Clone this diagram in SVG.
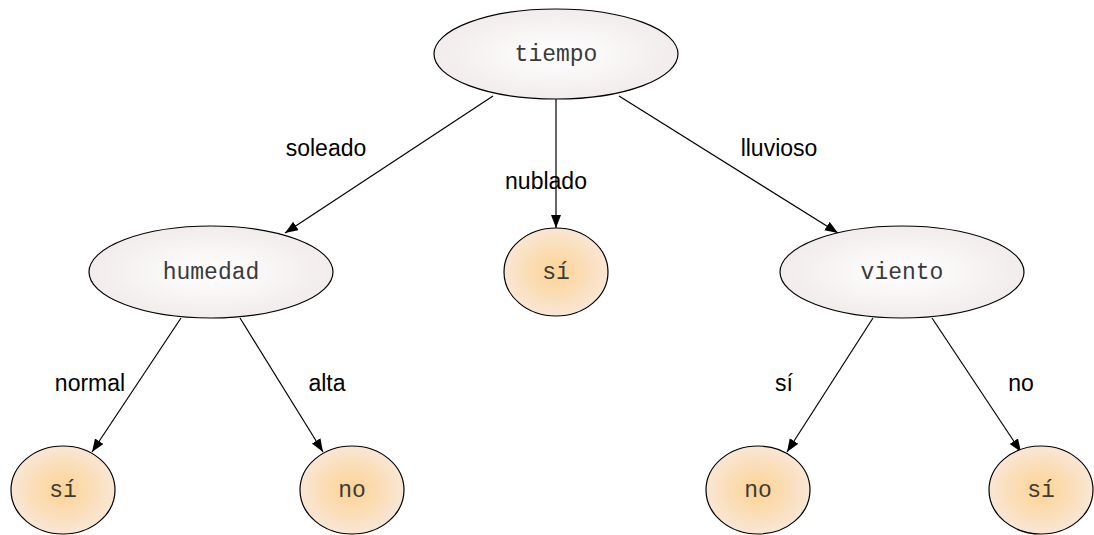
<svg xmlns="http://www.w3.org/2000/svg" width="1094" height="535" viewBox="0 0 1094 535">
  <defs>
    <radialGradient id="gDecision" cx="50%" cy="50%" r="50%">
      <stop offset="0" stop-color="#ffffff"/>
      <stop offset="1" stop-color="#f2ecec"/>
    </radialGradient>
    <radialGradient id="gLeaf" cx="50%" cy="50%" r="50%">
      <stop offset="0" stop-color="#fdd393"/>
      <stop offset="1" stop-color="#f9e6d4"/>
    </radialGradient>
    <marker id="arrow" markerUnits="userSpaceOnUse" markerWidth="14" markerHeight="12" refX="13" refY="5" orient="auto">
      <path d="M0,0 L13,5 L0,10 Z" fill="#000"/>
    </marker>
  </defs>
  <style>
    .decision { fill: url(#gDecision); stroke: #000; stroke-width: 1.2; }
    .leaf { fill: url(#gLeaf); stroke: #000; stroke-width: 1.2; }
    .ntext { font-family: "Liberation Mono", "Courier New", monospace; font-size: 23px; fill: #3a3a3a; text-anchor: middle; }
    .edge { stroke: #000; stroke-width: 1.2; fill: none; marker-end: url(#arrow); }
    .elabel { font-family: "Liberation Sans", Arial, Helvetica, sans-serif; font-size: 23px; fill: #000; text-anchor: middle; }
  </style>
  <rect width="1094" height="535" fill="#fff"/>

  <g id="connectors">
    <line class="edge" x1="493" y1="96" x2="285" y2="233"/>
    <line class="edge" x1="556" y1="99" x2="556" y2="228"/>
    <line class="edge" x1="619" y1="96" x2="838" y2="233"/>
    <line class="edge" x1="181" y1="318" x2="92" y2="452"/>
    <line class="edge" x1="240" y1="318" x2="323" y2="452"/>
    <line class="edge" x1="873" y1="318" x2="787" y2="452"/>
    <line class="edge" x1="932" y1="318" x2="1021" y2="452"/>
    <text class="elabel" x="326" y="156">soleado</text>
    <text class="elabel" x="546" y="189">nublado</text>
    <text class="elabel" x="779" y="156">lluvioso</text>
    <text class="elabel" x="90" y="391">normal</text>
    <text class="elabel" x="327" y="391">alta</text>
    <text class="elabel" x="784" y="391">sí</text>
    <text class="elabel" x="1021" y="391">no</text>
  </g>

  <g id="node-tiempo">
    <ellipse class="decision" cx="556" cy="54" rx="122" ry="45"/>
    <text class="ntext" x="556" y="61">tiempo</text>
  </g>
  <g id="node-humedad">
    <ellipse class="decision" cx="211" cy="272" rx="122" ry="46"/>
    <text class="ntext" x="211" y="279">humedad</text>
  </g>
  <g id="node-nublado-si">
    <ellipse class="leaf" cx="556" cy="272" rx="52" ry="44"/>
    <text class="ntext" x="556" y="279">sí</text>
  </g>
  <g id="node-viento">
    <ellipse class="decision" cx="902" cy="272" rx="122" ry="46"/>
    <text class="ntext" x="902" y="279">viento</text>
  </g>
  <g id="node-normal-si">
    <ellipse class="leaf" cx="63" cy="490" rx="52" ry="44"/>
    <text class="ntext" x="63" y="497">sí</text>
  </g>
  <g id="node-alta-no">
    <ellipse class="leaf" cx="352" cy="490" rx="52" ry="44"/>
    <text class="ntext" x="352" y="497">no</text>
  </g>
  <g id="node-viento-si-no">
    <ellipse class="leaf" cx="758" cy="490" rx="52" ry="44"/>
    <text class="ntext" x="758" y="497">no</text>
  </g>
  <g id="node-viento-no-si">
    <ellipse class="leaf" cx="1041" cy="490" rx="52" ry="44"/>
    <text class="ntext" x="1041" y="497">sí</text>
  </g>
</svg>
